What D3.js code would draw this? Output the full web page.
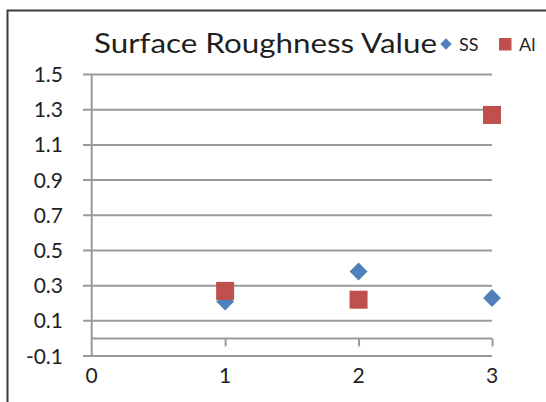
<!DOCTYPE html>
<html><head><meta charset="utf-8">
<script src="https://cdn.jsdelivr.net/npm/d3@7"></script>
<style>html,body{margin:0;padding:0;background:#fff;}svg{display:block;}</style>
</head><body>
<svg id="c" width="546" height="402"></svg>
<script>
const titleText = "Surface Roughness Value";
const seriesNames = ["SS", "Al"];
const seriesColors = ["#4F81BD", "#C0504D"];
const xValues = [1, 2, 3];
const ssValues = [0.21, 0.38, 0.23];
const alValues = [0.27, 0.22, 1.27];
const yTicks = [-0.1, 0.1, 0.3, 0.5, 0.7, 0.9, 1.1, 1.3, 1.5];
const xTicks = [0, 1, 2, 3];

const svg = d3.select("#c");
const font = "Lato, 'Open Sans', sans-serif";
const textColor = "#1f1f1f";
const gridColor = "#9a9a9a";

// outer border
svg.append("rect").attr("x", 7.5).attr("y", 10.5).attr("width", 560).attr("height", 420)
  .attr("fill", "none").attr("stroke", "#3a3a3a").attr("stroke-width", 2);

const x = d3.scaleLinear().domain([0, 3]).range([91.7, 492]);
const y = d3.scaleLinear().domain([-0.1, 1.5]).range([356, 74.5]);

// gridlines
svg.append("g").selectAll("line").data(yTicks).join("line")
  .attr("x1", 83).attr("x2", x(3))
  .attr("y1", d => y(d)).attr("y2", d => y(d))
  .attr("stroke", gridColor).attr("stroke-width", 2);

// y axis line
svg.append("line").attr("x1", x(0)).attr("x2", x(0)).attr("y1", y(1.5)).attr("y2", y(-0.1))
  .attr("stroke", gridColor).attr("stroke-width", 2);

// x axis at 0 with ticks
const xAxis = d3.axisBottom(x).tickValues(xTicks.filter(d => d > 0)).tickSize(8).tickFormat("");
const gx = svg.append("g").attr("transform", `translate(0,${y(0)})`).call(xAxis);
gx.select(".domain").attr("stroke", gridColor).attr("stroke-width", 2).attr("d", `M${x(0)},0H${x(3)}`);
gx.selectAll(".tick line").attr("stroke", gridColor).attr("stroke-width", 2);

const fmt = d => d3.format(".1f")(d).replace("\u2212", "-");

// y tick labels
svg.append("g").selectAll("text").data(yTicks).join("text")
  .attr("x", 63).attr("y", d => y(d)).attr("dy", "0.36em")
  .attr("text-anchor", "end").attr("font-family", font).attr("font-size", 21)
  .attr("fill", textColor).text(fmt);

// x tick labels
svg.append("g").selectAll("text").data(xTicks).join("text")
  .attr("x", d => x(d)).attr("y", 383)
  .attr("text-anchor", "middle").attr("font-family", font).attr("font-size", 21)
  .attr("fill", textColor).text(d => d);

// SS diamonds
const diamond = d3.symbol().type(d3.symbolSquare).size(160);
svg.append("g").selectAll("path").data(xValues.map((v, i) => [v, ssValues[i]])).join("path")
  .attr("d", diamond)
  .attr("transform", d => `translate(${x(d[0])},${y(d[1])}) rotate(45)`)
  .attr("fill", seriesColors[0]);

// Al squares
const sq = 18;
svg.append("g").selectAll("rect").data(xValues.map((v, i) => [v, alValues[i]])).join("rect")
  .attr("x", d => x(d[0]) - sq / 2).attr("y", d => y(d[1]) - sq / 2)
  .attr("width", sq).attr("height", sq)
  .attr("fill", seriesColors[1]);

// title
svg.append("text").attr("x", 94).attr("y", 52.5)
  .attr("font-family", font).attr("font-size", 27).attr("fill", "#1f1f1f")
  .attr("textLength", 343).attr("lengthAdjust", "spacingAndGlyphs")
  .text(titleText);

// legend
const lg = svg.append("g");
lg.append("path").attr("d", d3.symbol().type(d3.symbolSquare).size(64))
  .attr("transform", "translate(446,44) rotate(45)").attr("fill", seriesColors[0]);
lg.append("text").attr("x", 459).attr("y", 50.5).attr("font-family", font).attr("font-size", 18)
  .attr("fill", textColor).text(seriesNames[0]);
lg.append("rect").attr("x", 499).attr("y", 38).attr("width", 12.5).attr("height", 12.5)
  .attr("fill", seriesColors[1]);
lg.append("text").attr("x", 519).attr("y", 50.5).attr("font-family", font).attr("font-size", 18)
  .attr("fill", textColor).text(seriesNames[1]);
</script>
</body></html>
